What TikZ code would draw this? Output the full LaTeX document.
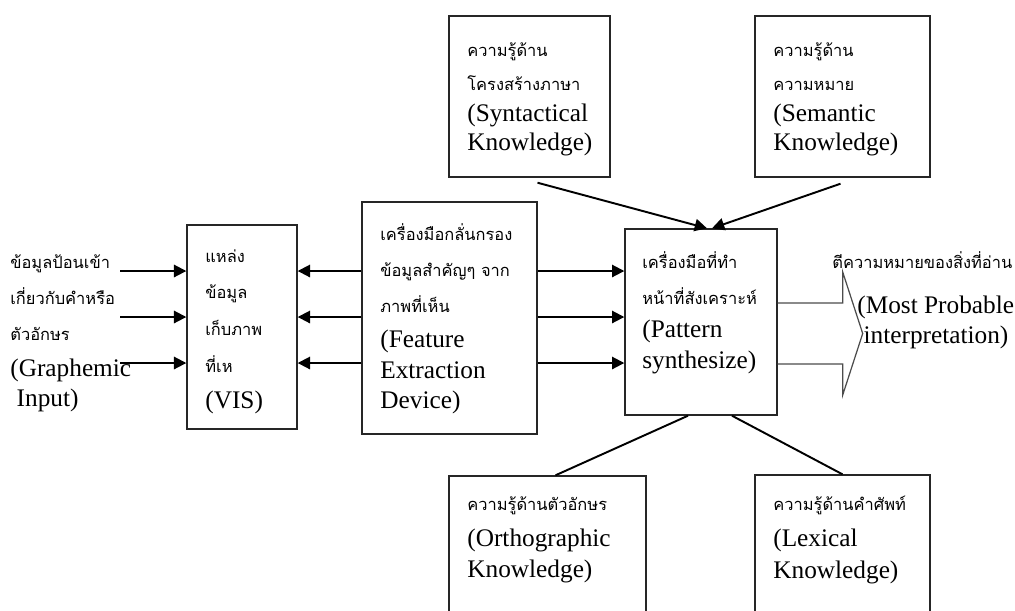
\documentclass[tikz,border=0pt]{standalone}
\usepackage{fontspec}
\setmainfont{Liberation Serif}
\newfontfamily\thaifont[Script=Thai,Scale=0.65]{Loma}
\usetikzlibrary{arrows.meta,calc,fit}

\tikzset{
  box/.style={draw=black!85, line width=0.8pt, inner sep=0pt},
  txt/.style={anchor=north west, inner sep=0pt, align=left,
    font=\fontsize{14.4}{20.5}\selectfont},
  arr/.style={line width=1.1pt, -{Triangle[length=7pt,width=7pt]}},
  link/.style={line width=1.1pt},
  hollow/.style={draw=black!70, line width=0.7pt}
}

\begin{document}
\begin{tikzpicture}[x=0.02cm, y=-0.02cm]
\useasboundingbox (0,0) rectangle (1015,610);
\clip (0,0) rectangle (1015,610);
% boxes
\node[box, fit={(187,225) (297,429)}] (vis) {};
\node[box, fit={(362,202) (537,434)}] (feat) {};
\node[box, fit={(625,229) (777,415)}] (pat) {};
\node[box, fit={(449,16) (610,177)}] (syn) {};
\node[box, fit={(755,16) (930,177)}] (sem) {};
\node[box, fit={(449,476) (646,640)}] (ort) {};
\node[box, fit={(755,475) (930,640)}] (lex) {};
% texts
\node[txt] (inTxt) at (10,254) {\thaifont ข้อมูลป้อนเข้า\\ \thaifont เกี่ยวกับคำหรือ\\ \thaifont ตัวอักษร\\[0pt] (Graphemic\\[-3pt] \ Input)};
\node[txt] (visTxt) at (205,249) {\thaifont แหล่ง\\[0.5pt] \thaifont ข้อมูล\\[0.5pt] \thaifont เก็บภาพ\\[0.5pt] \thaifont ที่เห\\[0pt] (VIS)};
\node[txt] (featTxt) at (380,223) {\thaifont เครื่องมือกลั่นกรอง\\ \thaifont ข้อมูลสำคัญๆ จาก\\ \thaifont ภาพที่เห็น\\[-0.5pt] (Feature\\[-3pt] Extraction\\[-3pt] Device)};
\node[txt] (patTxt) at (642,251) {\thaifont เครื่องมือที่ทำ\\ \thaifont หน้าที่สังเคราะห์\\[-1.5pt] (Pattern\\[-3pt] synthesize)};
\node[txt] (outTh) at (832,251) {\thaifont ตีความหมายของสิ่งที่อ่าน};
\node[txt] (outEn) at (857,296) {(Most Probable\\[-3.5pt] \ interpretation)};
\node[txt] (synTxt) at (467,42) {\thaifont ความรู้ด้าน\\[-1pt] \thaifont โครงสร้างภาษา\\[-3pt] (Syntactical\\[-3.5pt] Knowledge)};
\node[txt] (semTxt) at (773,42) {\thaifont ความรู้ด้าน\\[-1pt] \thaifont ความหมาย\\[-3pt] (Semantic\\[-3.5pt] Knowledge)};
\node[txt] (ortTxt) at (467,496) {\thaifont ความรู้ด้านตัวอักษร\\[0pt] (Orthographic\\[-2.5pt] Knowledge)};
\node[txt] (lexTxt) at (773,496) {\thaifont ความรู้ด้านคำศัพท์\\[0pt] (Lexical\\[-2.5pt] Knowledge)};
% rows of arrows
\coordinate (src) at (120,0);
\coordinate (r1) at (0,271);
\coordinate (r2) at (0,317);
\coordinate (r3) at (0,363);
\foreach \row in {r1,r2,r3}{
  \draw[arr] (\row -| src) -- (\row -| vis.west);
  \draw[arr] (\row -| feat.west) -- (\row -| vis.east);
  \draw[arr] (\row -| feat.east) -- (\row -| pat.west);
}
% knowledge lines
\draw[arr] ($(syn.south)+(8,5)$) -- ($(pat.north)+(6,0)$);
\draw[arr] ($(sem.south)+(-2,6)$) -- ($(pat.north)+(11,0)$);
\draw[link] ($(ort.north)+(8,0)$) -- ($(pat.south)+(-13,0)$);
\draw[link] ($(pat.south)+(31,0)$) -- (lex.north);
% output arrow
\coordinate (out) at ($(pat.east)+(0,11.5)$);
\draw[hollow] ($(out)+(0,-30.5)$) -- ++(65,0) -- ++(0,-31) -- ++(20,61.5)
  -- ++(-20,61.5) -- ++(0,-31) -- ++(-65,0);
\end{tikzpicture}
\end{document}
